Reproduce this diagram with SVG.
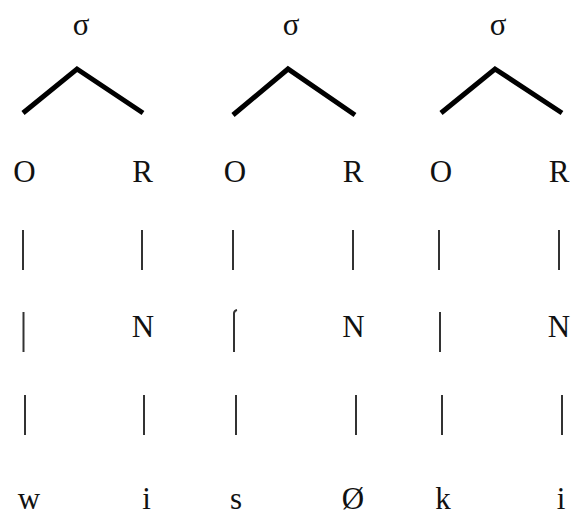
<svg xmlns="http://www.w3.org/2000/svg" width="571" height="516" viewBox="0 0 571 516">
  <style>
    text { font-family: "Liberation Serif", "Times New Roman", serif; font-size: 31px; fill: #111; text-anchor: middle; }
    .branch { fill: none; stroke: #000; stroke-width: 5; stroke-linejoin: miter; }
    .bar { stroke: #333; stroke-width: 2; stroke-linecap: butt; fill: none; }
  </style>
  <rect width="571" height="516" fill="#fff"/>

  <!-- syllable nodes -->
  <g id="sigma1"><text x="81" y="35">σ</text></g>
  <g id="sigma2"><text x="291" y="35">σ</text></g>
  <g id="sigma3"><text x="498" y="35">σ</text></g>

  <!-- onset / rime -->
  <g id="onset1"><text x="24.5" y="182">O</text></g>
  <g id="rime1"><text x="142.5" y="182">R</text></g>
  <g id="onset2"><text x="235" y="182">O</text></g>
  <g id="rime2"><text x="353" y="182">R</text></g>
  <g id="onset3"><text x="441" y="182">O</text></g>
  <g id="rime3"><text x="559" y="182">R</text></g>

  <!-- nuclei -->
  <g id="nucleus1"><text x="143" y="337">N</text></g>
  <g id="nucleus2"><text x="353.5" y="337">N</text></g>
  <g id="nucleus3"><text x="559" y="337">N</text></g>

  <!-- segments -->
  <g id="seg-w"><text x="29" y="509">w</text></g>
  <g id="seg-i1"><text x="146.5" y="509">i</text></g>
  <g id="seg-s"><text x="236" y="509">s</text></g>
  <g id="seg-null"><text x="353" y="509">Ø</text></g>
  <g id="seg-k"><text x="443" y="509">k</text></g>
  <g id="seg-i2"><text x="561" y="509">i</text></g>

  <g id="connectors">
    <!-- branching from σ to O and R -->
    <polyline class="branch" points="23,113 77,69 143,113"/>
    <polyline class="branch" points="233,115 288,69 355,115"/>
    <polyline class="branch" points="441,113 495,69 562,113"/>

    <!-- association lines, first row -->
    <line class="bar" x1="23" y1="230" x2="23" y2="270"/>
    <line class="bar" x1="142" y1="230" x2="142" y2="270"/>
    <line class="bar" x1="233" y1="230" x2="233" y2="270"/>
    <line class="bar" x1="353" y1="230" x2="353" y2="270"/>
    <line class="bar" x1="439" y1="230" x2="439" y2="270"/>
    <line class="bar" x1="559" y1="230" x2="559" y2="270"/>

    <!-- second row (onsets pass through to segments) -->
    <line class="bar" x1="23.5" y1="312" x2="23.5" y2="352"/>
    <path class="bar" d="M234,352 V313 Q234.5,310.5 237,310"/>
    <line class="bar" x1="440" y1="312" x2="440" y2="352"/>

    <!-- third row -->
    <line class="bar" x1="25" y1="395" x2="25" y2="435"/>
    <line class="bar" x1="144" y1="395" x2="144" y2="435"/>
    <line class="bar" x1="236" y1="395" x2="236" y2="435"/>
    <line class="bar" x1="356" y1="395" x2="356" y2="435"/>
    <line class="bar" x1="442" y1="395" x2="442" y2="435"/>
    <line class="bar" x1="562" y1="395" x2="562" y2="435"/>
  </g>
</svg>
